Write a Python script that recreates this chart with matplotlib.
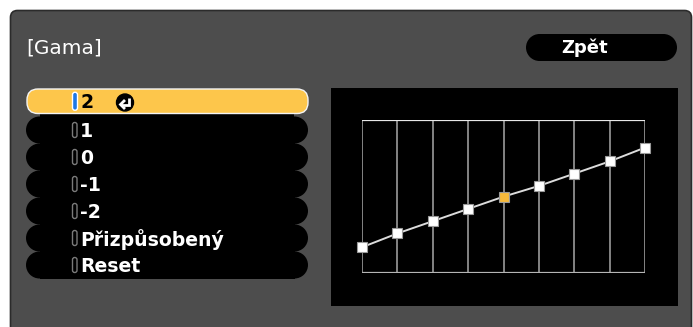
import matplotlib
matplotlib.use("Agg")
import matplotlib.pyplot as plt
from matplotlib.patches import FancyBboxPatch, Rectangle, Circle

# ---- data ----
title = "[Gama]"
back_label = "Zpět"
menu_items = ["2", "1", "0", "-1", "-2", "Přizpůsobený", "Reset"]
selected_item = 0
curve_points = [0, 1, 2, 3, 4, 5, 6, 7, 8]
curve_values = [17, 26, 34, 42, 50, 57, 65, 73, 82]
highlight_point = 4

W, H = 693, 327
fig = plt.figure(figsize=(W / 100, H / 100), dpi=100)
fig.patch.set_facecolor("white")
bg = fig.add_axes([0, 0, 1, 1])
bg.set_xlim(0, W)
bg.set_ylim(H, 0)
bg.axis("off")

PANEL = "#4d4d4d"
YELLOW = "#fdc64b"


def pill(x, y, w, h, color, z):
    r = h / 2
    bg.add_patch(Rectangle((x + r, y), w - 2 * r, h, facecolor=color, edgecolor="none", zorder=z))
    bg.add_patch(Circle((x + r, y + r), r, facecolor=color, edgecolor="none", zorder=z))
    bg.add_patch(Circle((x + w - r, y + r), r, facecolor=color, edgecolor="none", zorder=z))


# panel
bg.add_patch(FancyBboxPatch((10.5, 10.5), 681, 330, boxstyle="round,pad=0,rounding_size=7",
                            facecolor=PANEL, edgecolor="#2b2b2b", linewidth=1.2))

# title
bg.text(26, 48.5, title, color="white", fontsize=14.5, family="DejaVu Sans",
        va="center", ha="left")

# back button
pill(526, 34, 151, 27, "black", 2)
bg.text(585, 48, back_label, color="white", fontsize=13, fontweight="bold",
        family="DejaVu Sans", va="center", ha="center", zorder=3)

# menu rows
row_h = 27.0
x0, x1 = 26, 308
first_black_top = 116.5
# filler joining the highlighted row and the black rows
bg.add_patch(Rectangle((x0 + 14, 112), x1 - x0 - 28, 6, facecolor="black", edgecolor="none", zorder=1))
for i, label in enumerate(menu_items):
    if i == selected_item:
        y = 89
        h = 24.5
        bg.add_patch(FancyBboxPatch((x0 + 1, y), x1 - x0 - 1, h,
                                    boxstyle="round,pad=0,rounding_size=11",
                                    facecolor=YELLOW, edgecolor="#f4f4f4", linewidth=1.0, zorder=3))
        cy = y + h / 2
    else:
        y = first_black_top + (i - 1) * row_h
        pill(x0, y, x1 - x0, row_h, "black", 2)
        cy = y + row_h / 2
    # small indicator bar
    if i == selected_item:
        bg.add_patch(FancyBboxPatch((72.5, cy - 9), 5, 18, boxstyle="round,pad=0,rounding_size=2.5",
                                    facecolor="#1e78e6", edgecolor="white", linewidth=1.0, zorder=4))
        tcol = "black"
    else:
        bg.add_patch(FancyBboxPatch((72.5, cy - 7.5), 4.5, 15, boxstyle="round,pad=0,rounding_size=2.2",
                                    facecolor="black", edgecolor="#7a7a7a", linewidth=1.0, zorder=4))
        tcol = "white"
    bg.text(80, cy + 1.5, label, color=tcol, fontsize=13.6, fontweight="bold",
            family="DejaVu Sans", va="center", ha="left", zorder=5)

# enter icon on selected row
ecx, ecy = 125, 102.5
bg.add_patch(Circle((ecx, ecy), 8.5, facecolor="black", edgecolor="black", zorder=5))
bg.plot([ecx + 3.5, ecx + 3.5, ecx - 4], [ecy - 5, ecy + 2, ecy + 2], color="white",
        lw=2.0, solid_capstyle="butt", solid_joinstyle="miter", zorder=6)
bg.plot([ecx - 1, ecx - 4.5, ecx - 1], [ecy - 1.5, ecy + 2, ecy + 5.5], color="white",
        lw=2.0, solid_joinstyle="miter", zorder=6)

# graph background box
bg.add_patch(Rectangle((331, 88), 347, 218, facecolor="black", edgecolor="none"))

# graph axes
gl, gr, gt, gb = 362, 645, 120, 273.3
ax = fig.add_axes([gl / W, 1 - gb / H, (gr - gl) / W, (gb - gt) / H])
ax.set_xlim(curve_points[0], curve_points[-1])
ax.set_ylim(0, 100)
ax.set_facecolor("black")
for s in ax.spines.values():
    s.set_visible(False)
ax.set_xticks([])
ax.set_yticks([])
for xv in curve_points:
    ax.axvline(xv, color="#8e8e8e", lw=1.3, zorder=1)
ax.axhline(100, color="#e8e8e8", lw=1.6, zorder=2)
ax.axhline(0, color="#b5b5b5", lw=1.6, zorder=2)

ax.plot(curve_points, curve_values, color="#dcdcdc", lw=1.4, zorder=3, clip_on=False)
for i, (xv, yv) in enumerate(zip(curve_points, curve_values)):
    fc = "#f6b93b" if i == highlight_point else "white"
    ax.plot([xv], [yv], marker="s", ms=7.5, mfc=fc, mec="#9a9a9a", mew=0.8,
            zorder=4, clip_on=False)

fig.savefig("out.png", dpi=100, facecolor="white")
